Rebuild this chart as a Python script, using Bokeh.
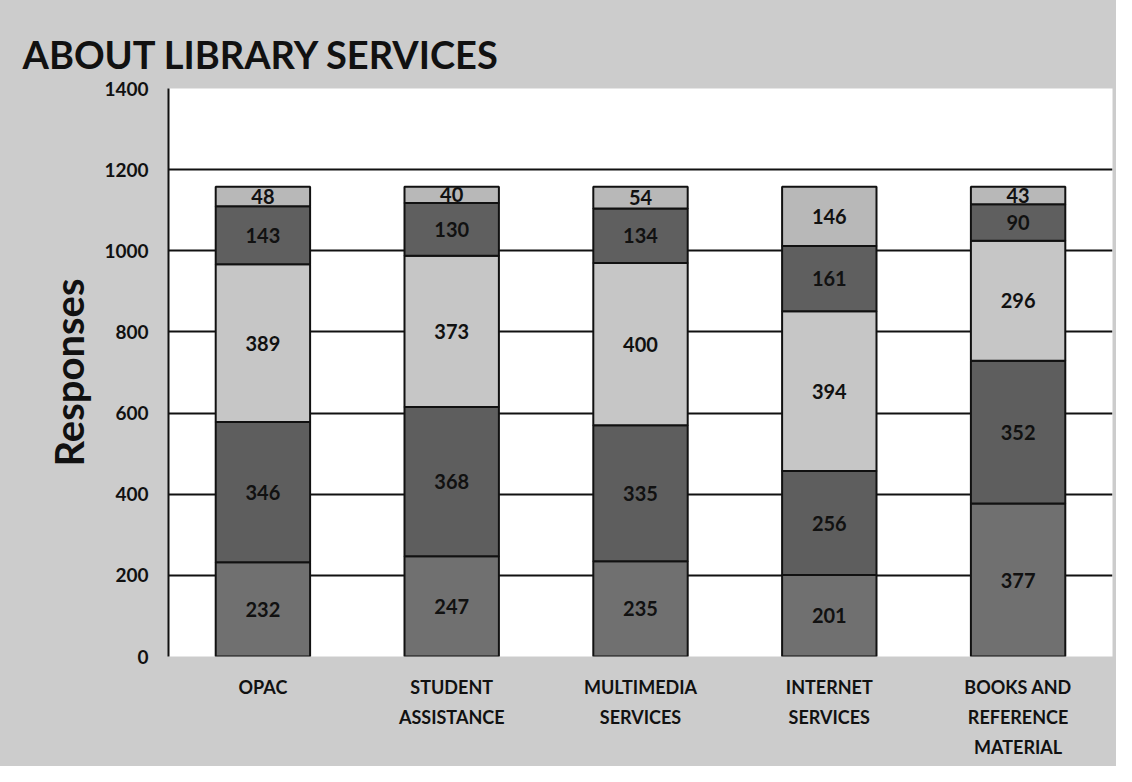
from bokeh.plotting import figure
from bokeh.models import ColumnDataSource, FixedTicker, Range1d, Title
from bokeh.layouts import column
from bokeh.embed import file_html
from bokeh.resources import INLINE
from bokeh.core.properties import value

categories = ["OPAC", "STUDENT ASSISTANCE", "MULTIMEDIA SERVICES", "INTERNET SERVICES", "BOOKS AND REFERENCE MATERIAL"]
cat_labels = ["OPAC", "STUDENT\nASSISTANCE", "MULTIMEDIA\nSERVICES", "INTERNET\nSERVICES", "BOOKS AND\nREFERENCE\nMATERIAL"]
series_names = ["s1", "s2", "s3", "s4", "s5"]
s1 = [232, 247, 235, 201, 377]
s2 = [346, 368, 335, 256, 352]
s3 = [389, 373, 400, 394, 296]
s4 = [143, 130, 134, 161, 90]
s5 = [48, 40, 54, 146, 43]
colors = ["#707070", "#5e5e5e", "#c6c6c6", "#5f5f5f", "#b8b8b8"]
y_ticks = [0, 200, 400, 600, 800, 1000, 1200, 1400]

FONT = "Lato"
BG = "#cccccc"
INK = "#111111"
W = 1116
LEFT = 168
RIGHT = 4
TOP_H = 670
BOT_H = 766 - TOP_H

data = {"cat": categories, "s1": s1, "s2": s2, "s3": s3, "s4": s4, "s5": s5}
source = ColumnDataSource(data)

p = figure(x_range=categories, y_range=Range1d(0, 1400), width=W, height=TOP_H,
           output_backend="svg", toolbar_location=None,
           min_border_left=LEFT, min_border_right=RIGHT, min_border_top=88, min_border_bottom=14)

p.background_fill_color = "white"
p.border_fill_color = BG
p.outline_line_color = None

p.vbar_stack(series_names, x="cat", width=0.5, source=source, fill_color=colors,
             line_color=INK, line_width=2)

# data labels
for i, name in enumerate(series_names):
    vals = data[name]
    bottoms = [sum(data[series_names[j]][k] for j in range(i)) for k in range(len(categories))]
    mids = [b + v / 2 for b, v in zip(bottoms, vals)]
    lsrc = ColumnDataSource({"cat": categories, "y": mids, "t": [str(v) for v in vals]})
    p.text(x="cat", y="y", text="t", source=lsrc, text_align="center", text_baseline="middle",
           text_font=value(FONT), text_font_style="bold", text_font_size="20px", text_color=INK)

p.title = Title(text="ABOUT LIBRARY SERVICES", text_font=FONT, text_font_size="38px",
                text_font_style="bold", text_color=INK, offset=-146)
p.title.standoff = 24

p.yaxis.ticker = FixedTicker(ticks=y_ticks)
p.yaxis.axis_label = "Responses"
p.yaxis.axis_label_text_font = FONT
p.yaxis.axis_label_text_font_size = "40px"
p.yaxis.axis_label_text_font_style = "bold"
p.yaxis.axis_label_text_color = INK
p.yaxis.axis_label_standoff = 8
p.yaxis.major_label_text_font = FONT
p.yaxis.major_label_text_font_size = "19px"
p.yaxis.major_label_text_font_style = "bold"
p.yaxis.major_label_text_color = INK
p.yaxis.major_label_standoff = 14
p.yaxis.major_tick_line_color = None
p.yaxis.minor_tick_line_color = None
p.yaxis.axis_line_color = INK
p.yaxis.axis_line_width = 2

p.xaxis.visible = False

p.xgrid.grid_line_color = None
p.ygrid.grid_line_color = INK
p.ygrid.grid_line_width = 2
p.ygrid.level = "underlay"

# strip below the chart holding the (multi-line) category labels, sharing the x range
p2 = figure(x_range=p.x_range, y_range=Range1d(-BOT_H, 0),
            width=W, height=BOT_H, output_backend="svg", toolbar_location=None,
            min_border_left=LEFT, min_border_right=RIGHT, min_border_top=0, min_border_bottom=0)
p2.background_fill_color = None
p2.border_fill_color = BG
p2.outline_line_color = None
p2.axis.visible = False
p2.grid.visible = False
csrc = ColumnDataSource({"cat": categories, "t": cat_labels, "y": [-5] * len(categories)})
p2.text(x="cat", y="y", text="t", source=csrc, text_align="center", text_baseline="top",
        text_font=value(FONT), text_font_style="bold", text_font_size="18px",
        text_color=INK, text_line_height=1.38)

layout = column(p, p2, spacing=0, styles={"background-color": BG})
open("out.html", "w").write(file_html(layout, INLINE))
